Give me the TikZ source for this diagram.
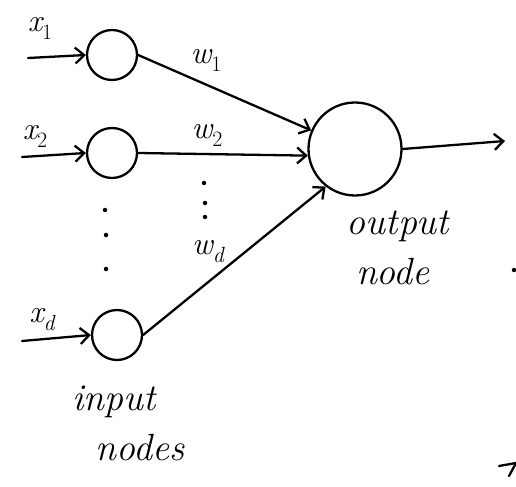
\documentclass[tikz,border=0pt]{standalone}
\usepackage{fontspec}
\usetikzlibrary{arrows.meta}
\newcommand{\vlab}[2]{{\itshape #1}\raisebox{-0.25em}{\fontsize{22}{22}\selectfont #2}}
\begin{document}
\begin{tikzpicture}[x=1bp,y=-1bp,
  every path/.style={line width=2.3pt, line cap=round, line join=round},
  neuron/.style={circle, draw, line width=2.3pt, minimum size=50bp, inner sep=0pt},
  outneuron/.style={circle, draw, line width=2.3pt, minimum size=93bp, inner sep=0pt},
  conn/.style={-{Straight Barb[length=9bp,width=16bp,line width=2.3pt]}},
  lbl/.style={font=\fontsize{32}{34}\selectfont, inner sep=0pt},
  txt/.style={font=\fontsize{38}{38}\selectfont\itshape, inner sep=0pt},
  dotmark/.style={circle, fill, inner sep=0pt, minimum size=4.5bp}]
\useasboundingbox (0,0) rectangle (516,487);
% input nodes
\node[neuron] (i1) at (112,55) {};
\node[neuron] (i2) at (112,153) {};
\node[neuron] (i3) at (117,335) {};
% output node
\node[outneuron] (o) at (355,149) {};
% free ends of arrows
\coordinate (s1) at (28,58);
\coordinate (s2) at (22,157);
\coordinate (s3) at (22,341);
\coordinate (e) at (505,141);
\draw[conn] (s1) -- (i1.west);
\draw[conn] (s2) -- (i2.west);
\draw[conn] (s3) -- (i3.west);
\draw[conn] (i1.east) -- (o.157);
\draw[conn] (i2.east) -- (o.188);
\draw[conn] (i3.east) -- (o.232);
\draw[conn] (o.east) -- (e);
% labels
\node[lbl] (lx1) at (40,28) {\vlab{x}{1}};
\node[lbl] (lx2) at (35,136) {\vlab{x}{2}};
\node[lbl] (lxd) at (42,320) {\vlab{x}{\itshape d}};
\node[lbl] (lw1) at (206,60) {\vlab{w}{1}};
\node[lbl] (lw2) at (207,135) {\vlab{w}{2}};
\node[lbl] (lwd) at (208,252) {\vlab{w}{\itshape d}};
% dots
\node[dotmark] (d1) at (105,210) {};
\node[dotmark] (d2) at (106,235) {};
\node[dotmark] (d3) at (106,269) {};
\node[dotmark] (d4) at (204,183) {};
\node[dotmark] (d5) at (205,203) {};
\node[dotmark] (d6) at (205,217) {};
% text
\node[txt] (ot1) at (398,226) {output};
\node[txt] (ot2) at (393,272) {node};
\node[txt] (it1) at (114,402) {input};
\node[txt] (it2) at (140,448) {nodes};
% stray marks at the edge
\node[dotmark] (d7) at (514,270) {};
\coordinate (f1) at (499,466);
\coordinate (f2) at (516,463);
\coordinate (f3) at (509,476);
\draw (f1) -- (f2);
\draw (f2) -- (f3);
\end{tikzpicture}
\end{document}
